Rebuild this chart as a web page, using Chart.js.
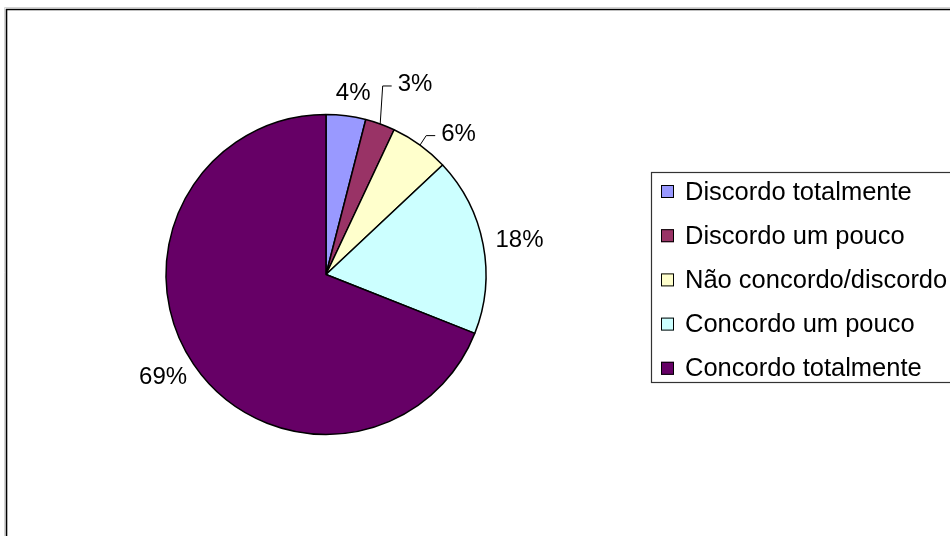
<!DOCTYPE html>
<html>
<head>
<meta charset="utf-8">
<title>Pie chart</title>
<script src="https://cdn.jsdelivr.net/npm/chart.js@4/dist/chart.umd.min.js"></script>
<style>
  html, body { margin: 0; padding: 0; background: #ffffff; }
  #wrap { position: relative; width: 950px; height: 536px; overflow: hidden; }
  canvas { display: block; }
</style>
</head>
<body>
<div id="wrap"><canvas id="chart" width="950" height="536"></canvas></div>
<script>
// Answer categories and their share of responses (%)
const categories = [
  'Discordo totalmente',
  'Discordo um pouco',
  'Não concordo/discordo',
  'Concordo um pouco',
  'Concordo totalmente'
];
const shares = [4, 3, 6, 18, 69];
const sliceColors = ['#9999FF', '#993366', '#FFFFCC', '#CCFFFF', '#660066'];

const FONT = '"Liberation Sans", Arial, sans-serif';

// Outer frame of the chart area
const framePlugin = {
  id: 'frame',
  beforeDraw(chart) {
    const ctx = chart.ctx;
    ctx.save();
    ctx.strokeStyle = '#d4d4d4';
    ctx.lineWidth = 1;
    ctx.beginPath();
    ctx.moveTo(4.5, 1200); ctx.lineTo(4.5, 7.5); ctx.lineTo(1200, 7.5);
    ctx.stroke();
    ctx.strokeStyle = '#000000';
    ctx.lineWidth = 1.6;
    ctx.beginPath();
    ctx.moveTo(6.5, 1200); ctx.lineTo(6.5, 9.5); ctx.lineTo(1200, 9.5);
    ctx.stroke();
    ctx.restore();
  }
};

// Percentage labels placed just outside each slice, with leader lines
// for the slices whose labels are pushed aside
const pctLabelPlugin = {
  id: 'pctLabels',
  afterDatasetsDraw(chart, args, opts) {
    const ctx = chart.ctx;
    const meta = chart.getDatasetMeta(0);
    const values = chart.data.datasets[0].data;
    ctx.save();
    ctx.font = opts.font;
    ctx.fillStyle = '#000';
    ctx.textAlign = 'center';
    ctx.textBaseline = 'middle';
    meta.data.forEach((arc, i) => {
      const p = arc.getProps(['x', 'y', 'startAngle', 'endAngle', 'outerRadius'], true);
      const mid = (p.startAngle + p.endAngle) / 2;
      const shift = opts.shifts[i] || { da: 0, dr: 0 };
      const a = mid + shift.da * Math.PI / 180;
      const rr = p.outerRadius + opts.gap + shift.dr;
      const ax = p.x + Math.cos(a) * rr;
      const ay = p.y + Math.sin(a) * rr;
      const text = values[i] + '%';
      const w = ctx.measureText(text).width;
      const h = opts.boxHeight;
      const cx = ax + Math.cos(a) * w / 2;
      const cy = ay + Math.sin(a) * h / 2;
      ctx.fillText(text, cx, cy);
      if (shift.leader) {
        const sx = p.x + Math.cos(mid) * p.outerRadius;
        const sy = p.y + Math.sin(mid) * p.outerRadius;
        const left = cx - w / 2;
        const ly = cy + 1.5;
        ctx.strokeStyle = '#000';
        ctx.lineWidth = 1;
        ctx.beginPath();
        ctx.moveTo(sx, sy);
        ctx.lineTo(left - 15, ly);
        ctx.lineTo(left - 6, ly);
        ctx.stroke();
      }
    });
    ctx.restore();
  }
};

// Boxed legend on the right
const boxLegendPlugin = {
  id: 'boxLegend',
  afterDraw(chart, args, opts) {
    const ctx = chart.ctx;
    const ds = chart.data.datasets[0];
    ctx.save();
    ctx.fillStyle = '#ffffff';
    ctx.fillRect(opts.x, opts.y, opts.w, opts.h);
    ctx.strokeStyle = '#333333';
    ctx.lineWidth = 1.2;
    ctx.strokeRect(opts.x + 0.5, opts.y + 0.5, opts.w, opts.h);
    ctx.font = opts.font;
    ctx.textAlign = 'left';
    ctx.textBaseline = 'middle';
    chart.data.labels.forEach((label, i) => {
      const cy = opts.firstRow + i * opts.rowStep;
      ctx.fillStyle = ds.backgroundColor[i];
      ctx.fillRect(opts.x + 10, cy - 6.5, 13, 13);
      ctx.strokeStyle = '#000';
      ctx.lineWidth = 1;
      ctx.strokeRect(opts.x + 10.5, cy - 6, 12, 12);
      ctx.fillStyle = '#000';
      ctx.fillText(label, opts.x + 34, cy + 1);
    });
    ctx.restore();
  }
};

new Chart(document.getElementById('chart'), {
  type: 'pie',
  data: {
    labels: categories,
    datasets: [{
      data: shares,
      backgroundColor: sliceColors,
      borderColor: '#000000',
      borderWidth: 1.5,
      radius: 160
    }]
  },
  options: {
    responsive: false,
    animation: false,
    devicePixelRatio: 1,
    layout: { padding: { left: 156, right: 454, top: 104.5, bottom: 91.5 } },
    plugins: {
      legend: { display: false },
      tooltip: { enabled: false },
      pctLabels: {
        font: '24px ' + FONT,
        gap: 13,
        boxHeight: 19,
        shifts: [
          { da: 1, dr: 0 },
          { da: 4.5, dr: 26, leader: true },
          { da: 6.2, dr: 7, leader: true },
          { da: 0, dr: 0 },
          { da: 0, dr: 0 }
        ]
      },
      boxLegend: {
        x: 651, y: 172, w: 310, h: 210,
        firstRow: 191.5, rowStep: 44.2,
        font: '25.5px ' + FONT
      }
    }
  },
  plugins: [framePlugin, pctLabelPlugin, boxLegendPlugin]
});
</script>
</body>
</html>
